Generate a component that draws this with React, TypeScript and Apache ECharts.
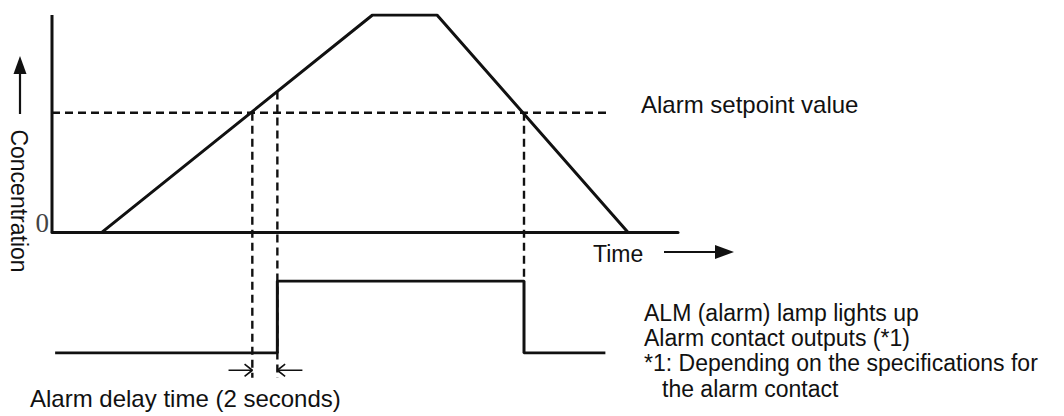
import React, { useEffect, useRef } from "react";
import * as echarts from "echarts";

// Time axis (seconds) and concentration (% of peak)
const timeRange = [0, 50];
const concRange = [-75, 100];
const concTime = [4, 25.6, 30.75, 46];
const concValue = [0, 100, 100, 0];
const setpointValue = 55;
const setpointLineEnd = 44.3;
const riseCrossTime = 16;
const delayEndTime = 18;
const delayEndConc = 64.8;
const fallCrossTime = 37.7;
const guideBottom = -67;
const fallGuideBottom = -22.6;
// Alarm contact output (0 = off, 1 = on)
const signalTime = [0.25, 18, 18, 37.7, 37.7, 44.2];
const signalValue = [0, 0, 1, 1, 0, 0];
// Alarm delay arrows
const delayArrowLevel = -63.6;
const delayArrowLeftStart = 14.1;
const delayArrowRightStart = 20.0;
const arrowHeadLen = 0.62;
const arrowHeadHalf = 2.8;
const yTickLabels = ["0"];

const FONT = "'Liberation Sans', Arial, sans-serif";
const INK = "#111";

export default function App() {
  const ref = useRef<HTMLDivElement>(null);
  useEffect(() => {
    const chart = echarts.init(ref.current!, null, { renderer: "svg" });
    const solid = { color: INK, width: 3 };
    const dashed = { color: INK, width: 2.4, type: [8, 5] as number[] };
    const line = (data: any[], style: any, gi = 0) => ({
      type: "line",
      xAxisIndex: gi,
      yAxisIndex: gi,
      data,
      symbol: "none",
      silent: true,
      lineStyle: style,
      emphasis: { disabled: true },
    });
    const a = delayArrowLevel;
    const chevronRight = [
      [riseCrossTime - arrowHeadLen, a + arrowHeadHalf],
      [riseCrossTime, a],
      [riseCrossTime - arrowHeadLen, a - arrowHeadHalf],
    ];
    const chevronLeft = [
      [delayEndTime + arrowHeadLen, a + arrowHeadHalf],
      [delayEndTime, a],
      [delayEndTime + arrowHeadLen, a - arrowHeadHalf],
    ];
    const thin = { color: INK, width: 1.6 };
    chart.setOption({
      animation: false,
      grid: [
        { left: 52, top: 15, width: 626, height: 380 },
        { left: 52, top: 281, width: 626, height: 72 },
      ],
      xAxis: [
        {
          type: "value",
          gridIndex: 0,
          min: timeRange[0],
          max: timeRange[1],
          axisLine: { show: true, onZero: true, lineStyle: { color: INK, width: 3 } },
          axisTick: { show: false },
          axisLabel: { show: false },
          splitLine: { show: false },
        },
        {
          type: "value",
          gridIndex: 1,
          min: timeRange[0],
          max: timeRange[1],
          show: false,
        },
      ],
      yAxis: [
        {
          type: "value",
          gridIndex: 0,
          min: concRange[0],
          max: concRange[1],
          interval: 25,
          axisLine: { show: false },
          axisTick: { show: false },
          splitLine: { show: false },
          axisLabel: { show: false },
        },
        { type: "value", gridIndex: 1, min: 0, max: 1, show: false },
      ],
      series: [
        line([[0, 0], [0, 100]], solid),
        line(concTime.map((t, i) => [t, concValue[i]]), solid),
        line([[0, setpointValue], [setpointLineEnd, setpointValue]], dashed),
        line([[riseCrossTime, setpointValue], [riseCrossTime, guideBottom]], dashed),
        line([[delayEndTime, delayEndConc], [delayEndTime, guideBottom]], dashed),
        line([[fallCrossTime, setpointValue], [fallCrossTime, fallGuideBottom]], dashed),
        line(signalTime.map((t, i) => [t, signalValue[i]]), solid, 1),
        line([[delayArrowLeftStart, a], [riseCrossTime, a]], thin),
        line(chevronRight, thin),
        line([[delayArrowRightStart, a], [delayEndTime, a]], thin),
        line(chevronLeft, thin),
      ],
      graphic: [
        {
          type: "text",
          x: 49,
          y: 223,
          style: {
            text: yTickLabels[0],
            font: "27px 'Liberation Serif', 'Times New Roman', serif",
            fill: "#444",
            align: "right",
            verticalAlign: "middle",
          },
        },
        {
          type: "text",
          x: 19,
          y: 201,
          rotation: -Math.PI / 2,
          style: {
            text: "Concentration",
            font: `23px ${FONT}`,
            fill: INK,
            align: "center",
            verticalAlign: "middle",
          },
        },
        {
          type: "line",
          shape: { x1: 20, y1: 114, x2: 20, y2: 70 },
          style: { stroke: INK, lineWidth: 2.2 },
        },
        {
          type: "polygon",
          shape: { points: [[20, 56], [13.5, 74], [26.5, 74]] },
          style: { fill: INK },
        },
        {
          type: "text",
          x: 641,
          y: 104,
          style: { text: "Alarm setpoint value", font: `24px ${FONT}`, fill: INK, verticalAlign: "middle" },
        },
        {
          type: "text",
          x: 593,
          y: 254,
          style: { text: "Time", font: `23px ${FONT}`, fill: INK, verticalAlign: "middle" },
        },
        {
          type: "line",
          shape: { x1: 664, y1: 252, x2: 720, y2: 252 },
          style: { stroke: INK, lineWidth: 2.2 },
        },
        {
          type: "polygon",
          shape: { points: [[734, 252], [715, 245], [715, 259]] },
          style: { fill: INK },
        },
        {
          type: "text",
          x: 30,
          y: 398,
          style: { text: "Alarm delay time (2 seconds)", font: `24px ${FONT}`, fill: INK, verticalAlign: "middle" },
        },
        {
          type: "text",
          x: 644,
          y: 313,
          style: { text: "ALM (alarm) lamp lights up", font: `23px ${FONT}`, fill: INK, verticalAlign: "middle" },
        },
        {
          type: "text",
          x: 644,
          y: 338,
          style: { text: "Alarm contact outputs (*1)", font: `23px ${FONT}`, fill: INK, verticalAlign: "middle" },
        },
        {
          type: "text",
          x: 644,
          y: 363,
          style: { text: "*1: Depending on the specifications for", font: `23px ${FONT}`, fill: INK, verticalAlign: "middle" },
        },
        {
          type: "text",
          x: 662,
          y: 389,
          style: { text: "the alarm contact", font: `23px ${FONT}`, fill: INK, verticalAlign: "middle" },
        },
      ],
    });
    return () => chart.dispose();
  }, []);
  return (
    <div
      ref={ref}
      style={{ position: "absolute", left: 0, top: 0, width: 1064, height: 416, background: "#fff" }}
    />
  );
}
